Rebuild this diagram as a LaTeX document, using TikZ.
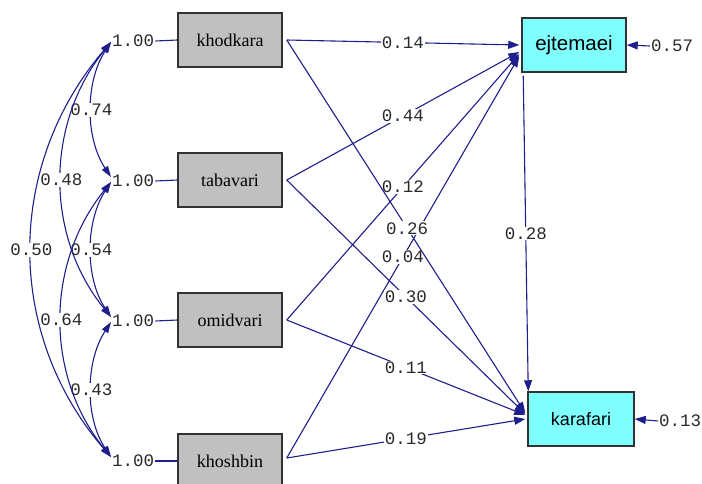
\documentclass[tikz,border=0pt]{standalone}
\usepackage{fontspec}
\setmainfont{Liberation Serif}
\newfontfamily\monofont{Liberation Mono}
\newfontfamily\arialfont{Liberation Sans}
\usetikzlibrary{arrows.meta}
\definecolor{pathblue}{RGB}{30,30,140}
\definecolor{boxgray}{RGB}{192,192,192}
\definecolor{boxcyan}{RGB}{128,255,255}
\definecolor{edgegray}{RGB}{50,50,50}
\definecolor{numtext}{RGB}{45,40,40}
\begin{document}
\begin{tikzpicture}[x=1pt,y=-1pt,
  obsbox/.style={draw=edgegray, line width=1.5pt, minimum width=104pt, minimum height=54pt, inner sep=0pt},
  exobox/.style={obsbox, fill=boxgray, font=\fontsize{18}{18}\selectfont},
  endbox/.style={obsbox, fill=boxcyan, font=\arialfont\fontsize{19}{19}\selectfont},
  lbl/.style={fill=white, inner sep=1pt, font=\monofont\fontsize{17.5}{17.5}\selectfont, text=numtext},
  varlbl/.style={inner sep=1pt, font=\monofont\fontsize{17.5}{17.5}\selectfont, text=numtext, anchor=west},
  plain/.style={draw=pathblue, line width=1.1pt},
  conn/.style={plain, -{Triangle[length=11pt,width=8pt]}},
  corr/.style={plain, {Triangle[length=11pt,width=7pt]}-{Triangle[length=11pt,width=7pt]}},
]
\useasboundingbox (0,0) rectangle (702,483);
\clip (0,0) rectangle (702,483);

% exogenous boxes
\node[exobox] (kh) at (230,40) {khodkara};
\node[exobox] (tb) at (230,180) {tabavari};
\node[exobox] (om) at (230,320) {omidvari};
\node[exobox] (ks) at (230,461) {khoshbin};

% endogenous boxes
\node[endbox, font=\arialfont\fontsize{20.5}{20.5}\selectfont] (ej) at (574,45) {ejtemaei};
\node[endbox, minimum width=106pt, font=\arialfont\fontsize{18}{18}\selectfont] (kr) at (581,419) {karafari};

% variances
\node[varlbl] (v1) at (111,41) {1.00};
\node[varlbl] (v2) at (111,181) {1.00};
\node[varlbl] (v3) at (111,321) {1.00};
\node[varlbl] (v4) at (111,461) {1.00};
\draw[plain] (v1.east) -- (kh.west);
\draw[plain] (v2.east) -- (tb.west);
\draw[plain] (v3.east) -- (om.west);
\draw[plain] (v4.east) -- (ks.west);

% error variances
\node[varlbl] (e1) at (650,46) {0.57};
\node[varlbl] (e2) at (658,421) {0.13};
\draw[conn] (e1.west) -- (ej.east);
\draw[conn] (e2.west) -- (kr.east);

% covariances
\draw[corr] ([yshift=-1pt]v1.west) .. controls (85,82) and (85,138) .. node[lbl]{0.74} ([yshift=4pt]v2.west);
\draw[corr] ([yshift=-1pt]v2.west) .. controls (85,222) and (85,278) .. node[lbl]{0.54} ([yshift=4pt]v3.west);
\draw[corr] ([yshift=-1pt]v3.west) .. controls (85,362) and (85,418) .. node[lbl]{0.43} ([yshift=4pt]v4.west);
\draw[corr] ([yshift=-1pt]v1.west) .. controls (45,124) and (45,236) .. node[lbl]{0.48} ([yshift=4pt]v3.west);
\draw[corr] ([yshift=-1pt]v2.west) .. controls (45,264) and (45,376) .. node[lbl]{0.64} ([yshift=4pt]v4.west);
\draw[corr] ([yshift=-1pt]v1.west) .. controls (5,166) and (5,334) .. node[lbl]{0.50} ([yshift=4pt]v4.west);

% paths to ejtemaei
\draw[conn] ([xshift=4pt]kh.east) -- node[lbl]{0.14} ([xshift=-2pt]ej.west);
\draw[conn] ([xshift=4pt]tb.east) -- node[lbl]{0.44} ([xshift=-2pt,yshift=-7pt]ej.west);
\draw[conn] ([xshift=4pt]om.east) -- node[lbl]{0.12} ([xshift=-2pt,yshift=-9pt]ej.west);
\draw[conn] ([xshift=4pt,yshift=3pt]ks.east) -- node[lbl]{0.04} ([xshift=-2pt,yshift=-11pt]ej.west);

% paths to karafari
\draw[conn] ([xshift=4pt]kh.east) -- node[lbl, pos=0.505]{0.26} ([xshift=-2pt,yshift=6pt]kr.west);
\draw[conn] ([xshift=4pt]tb.east) -- node[lbl]{0.30} ([xshift=-2pt,yshift=5pt]kr.west);
\draw[conn] ([xshift=4pt]om.east) -- node[lbl]{0.11} ([xshift=-2pt,yshift=4pt]kr.west);
\draw[conn] ([xshift=4pt,yshift=3pt]ks.east) -- node[lbl]{0.19} ([xshift=-2pt]kr.west);

% ejtemaei -> karafari
\draw[conn] ([xshift=2pt,yshift=-3pt]ej.south west) -- node[lbl]{0.28} ([xshift=1pt]kr.north west);
\end{tikzpicture}
\end{document}
